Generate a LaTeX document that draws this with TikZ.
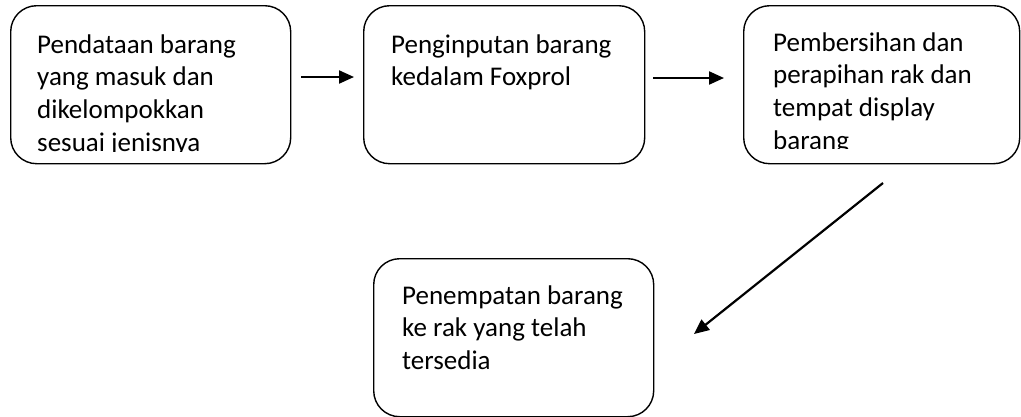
\documentclass[tikz,border=0pt]{standalone}
\usepackage{fontspec}
\setmainfont{Carlito}
\usetikzlibrary{arrows.meta}
\newcommand{\steplines}[1]{\begin{tabular}[t]{@{}l@{}}#1\end{tabular}}
\begin{document}
\begin{tikzpicture}[x=1pt,y=-1pt,
  stepbox/.style={draw=black,line width=1.4pt,rounded corners=26pt,minimum width=#1,minimum height=158pt,inner sep=0pt},
  stepbox/.default=280pt,
  steptext/.style={anchor=base west,inner sep=0pt,font=\fontsize{27}{32.7}\selectfont},
  flow/.style={line width=2.2pt,-{Triangle[length=15pt,width=13pt]}}]
\useasboundingbox (0,0) rectangle (1021,416);
% boxes
\node[stepbox=280pt,anchor=north west] (b1) at (10,5) {};
\node[stepbox=281pt,anchor=north west] (b2) at (363,5) {};
\node[stepbox=276pt,anchor=north west] (b3) at (743,5) {};
\node[stepbox=280pt,anchor=north west] (b4) at (373,258) {};
% texts
\begin{scope}
\clip (10,5) rectangle (290,151);
\node[steptext] (t1) at (37,53) {\steplines{Pendataan barang\\yang masuk dan\\dikelompokkan\\sesuai jenisnya}};
\end{scope}
\node[steptext] (t2) at (391,53) {\steplines{Penginputan barang\\kedalam Foxprol}};
\begin{scope}
\clip (743,5) rectangle (1019,148);
\node[steptext] (t3) at (773,51) {\steplines{Pembersihan dan\\perapihan rak dan\\tempat display\\barang}};
\end{scope}
\node[steptext] (t4) at (402,304) {\steplines{Penempatan barang\\ke rak yang telah\\tersedia}};
% connectors
\coordinate (a1s) at (301,77);
\coordinate (a1e) at (354,77);
\coordinate (a2s) at (653,78);
\coordinate (a2e) at (724,78);
\coordinate (a3s) at (883,183);
\coordinate (a3e) at (694,334);
\draw[flow] (a1s) -- (a1e);
\draw[flow] (a2s) -- (a2e);
\draw[flow] (a3s) -- (a3e);
\end{tikzpicture}
\end{document}
